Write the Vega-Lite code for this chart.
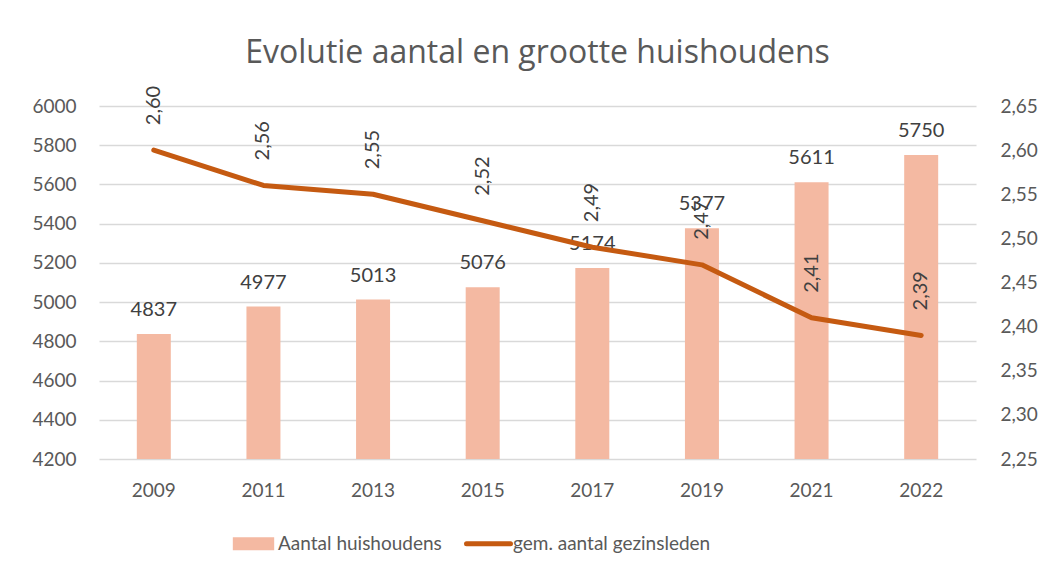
{
  "$schema": "https://vega.github.io/schema/vega-lite/v6.json",
  "width": 877,
  "height": 353,
  "autosize": {"type": "none"},
  "padding": {"left": 99, "top": 106, "right": 70, "bottom": 121},
  "background": "white",
  "title": {
    "text": "Evolutie aantal en grootte huishoudens",
    "anchor": "middle",
    "font": "Open Sans",
    "fontSize": 32,
    "fontWeight": "normal",
    "color": "#595959",
    "offset": 16
  },
  "data": {
    "values": [
      {"jaar": "2009", "huishoudens": 4837, "gezinsleden": 2.60},
      {"jaar": "2011", "huishoudens": 4977, "gezinsleden": 2.56},
      {"jaar": "2013", "huishoudens": 5013, "gezinsleden": 2.55},
      {"jaar": "2015", "huishoudens": 5076, "gezinsleden": 2.52},
      {"jaar": "2017", "huishoudens": 5174, "gezinsleden": 2.49},
      {"jaar": "2019", "huishoudens": 5377, "gezinsleden": 2.47},
      {"jaar": "2021", "huishoudens": 5611, "gezinsleden": 2.41},
      {"jaar": "2022", "huishoudens": 5750, "gezinsleden": 2.39}
    ]
  },
  "encoding": {
    "x": {
      "field": "jaar",
      "type": "nominal",
      "sort": null,
      "scale": {"paddingInner": 0.69, "paddingOuter": 0.345},
      "axis": {
        "title": null,
        "labelAngle": 0,
        "labelFont": "Lato",
        "labelFontSize": 19,
        "labelColor": "#595959",
        "labelPadding": 22,
        "ticks": false,
        "domain": false,
        "grid": false
      }
    }
  },
  "layer": [
    {
      "encoding": {
        "y": {
          "field": "huishoudens",
          "type": "quantitative",
          "scale": {"domain": [4200, 6000], "nice": false, "zero": false},
          "axis": {
            "title": null,
            "values": [4200, 4400, 4600, 4800, 5000, 5200, 5400, 5600, 5800, 6000],
            "format": "d",
            "labelOverlap": false,
            "labelFont": "Lato",
            "labelFontSize": 19,
            "labelColor": "#595959",
            "labelPadding": 23,
            "ticks": false,
            "domain": false,
            "grid": true,
            "gridColor": "#D9D9D9",
            "gridWidth": 1.5
          }
        }
      },
      "layer": [
        {
          "mark": {"type": "bar", "size": 34, "clip": true},
          "encoding": {
            "y2": {"datum": 4200},
            "color": {
              "datum": "Aantal huishoudens",
              "type": "nominal",
              "scale": {
                "domain": ["Aantal huishoudens", "gem. aantal gezinsleden"],
                "range": ["#F4B9A2", "#C55A11"]
              },
              "legend": {
                "title": null,
                "orient": "none",
                "direction": "horizontal",
                "legendX": 145,
                "legendY": 428,
                "labelFont": "Lato",
                "labelFontSize": 19,
                "labelColor": "#595959",
                "labelLimit": 400,
                "labelOffset": 15,
                "columnPadding": 14,
                "symbolSize": 1936,
                "symbolStrokeWidth": 0,
                "encode": {
                  "symbols": {
                    "update": {
                      "shape": {"signal": "datum.value === 'Aantal huishoudens' ? 'M-0.94,-0.3H0.94V0.3H-0.94Z' : 'M-1,0H1'"},
                      "fill": {"signal": "datum.value === 'Aantal huishoudens' ? '#F4B9A2' : 'transparent'"},
                      "stroke": {"signal": "datum.value === 'Aantal huishoudens' ? 'transparent' : '#C55A11'"},
                      "strokeWidth": {"signal": "datum.value === 'Aantal huishoudens' ? 0 : 5"},
                      "strokeCap": {"value": "round"},
                      "opacity": {"value": 1}
                    }
                  }
                }
              }
            }
          }
        },
        {
          "mark": {"type": "text", "baseline": "alphabetic", "dy": -18, "font": "Lato", "fontSize": 20, "color": "#404040"},
          "encoding": {
            "text": {"field": "huishoudens", "type": "quantitative", "format": "d"}
          }
        }
      ]
    },
    {
      "encoding": {
        "y": {
          "field": "gezinsleden",
          "type": "quantitative",
          "scale": {"domain": [2.25, 2.65], "nice": false, "zero": false},
          "axis": {
            "orient": "right",
            "title": null,
            "values": [2.25, 2.3, 2.35, 2.4, 2.45, 2.5, 2.55, 2.6, 2.65],
            "format": ".2f",
            "labelOverlap": false,
            "labelFont": "Lato",
            "labelFontSize": 19,
            "labelColor": "#595959",
            "labelPadding": 24,
            "ticks": false,
            "domain": false,
            "grid": false
          }
        }
      },
      "layer": [
        {
          "mark": {"type": "line", "strokeWidth": 5, "strokeCap": "round", "strokeJoin": "round"},
          "encoding": {
            "color": {"datum": "gem. aantal gezinsleden", "type": "nominal"}
          }
        },
        {
          "mark": {"type": "text", "angle": 270, "align": "left", "baseline": "middle", "dx": 25, "font": "Lato", "fontSize": 20, "color": "#404040"},
          "encoding": {
            "text": {"field": "gezinsleden", "type": "quantitative", "format": ".2f"}
          }
        }
      ]
    }
  ],
  "resolve": {"scale": {"y": "independent"}},
  "config": {
    "view": {"stroke": null},
    "locale": {
      "number": {"decimal": ",", "thousands": ".", "grouping": [3], "currency": ["€", ""]}
    }
  }
}
